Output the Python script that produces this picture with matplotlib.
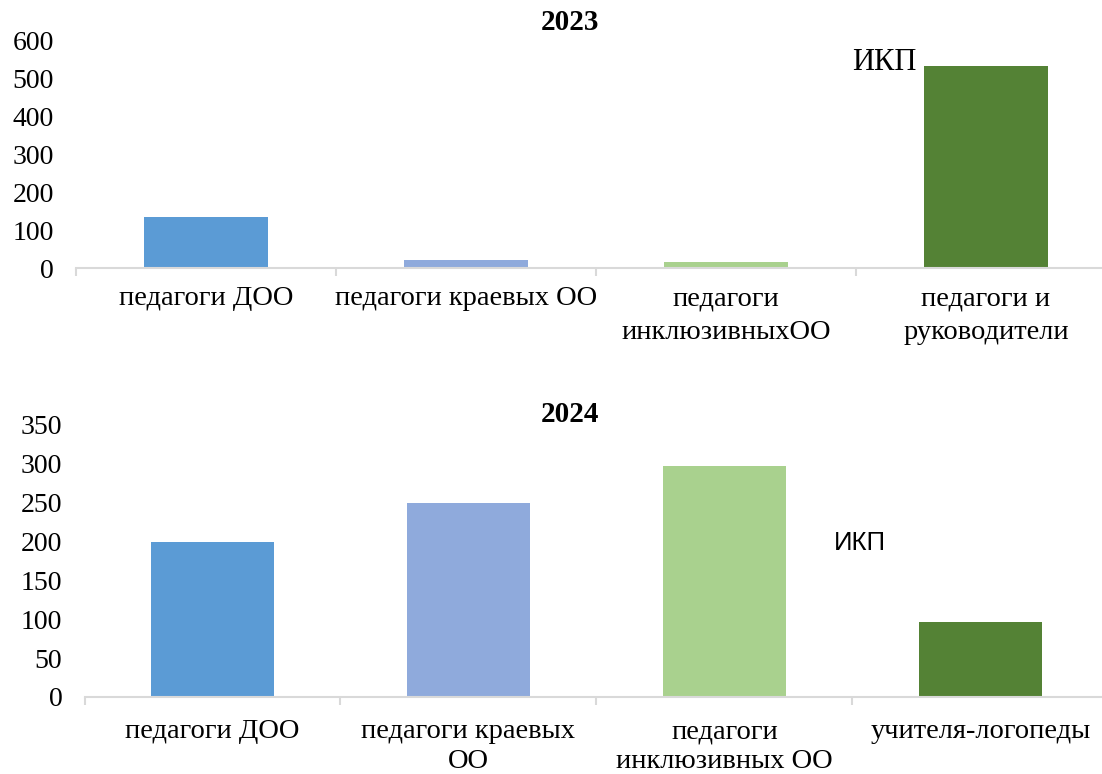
import matplotlib
matplotlib.use("Agg")
import matplotlib.pyplot as plt
import numpy as np

plt.rcParams['font.family'] = ['Liberation Serif', 'DejaVu Serif']

# Data
cats_2023 = ["педагоги ДОО", "педагоги краевых ОО", "педагоги\nинклюзивныхОО", "педагоги и\nруководители"]
vals_2023 = [135, 20, 17, 532]
cats_2024 = ["педагоги ДОО", "педагоги краевых\nОО", "педагоги\nинклюзивных ОО", "учителя-логопеды"]
vals_2024 = [200, 250, 297, 96]
colors = ["#5B9BD5", "#8FAADC", "#A9D18E", "#548235"]
yticks_2023 = [0, 100, 200, 300, 400, 500, 600]
yticks_2024 = [0, 50, 100, 150, 200, 250, 300, 350]

W, H = 1102, 774
fig = plt.figure(figsize=(W/100, H/100), dpi=100)

def make_axes(left_px, right_px, bottom_px, top_px):
    return fig.add_axes([left_px/W, 1-bottom_px/H, (right_px-left_px)/W, (bottom_px-top_px)/H])

def style(ax, cats, vals, yticks, ymax, xpad, ls):
    x = np.arange(len(cats))
    ax.bar(x, vals, width=0.48, color=colors, zorder=2)
    ax.set_xlim(-0.5, len(cats)-0.5)
    ax.set_ylim(0, ymax)
    ax.set_yticks(yticks)
    ax.set_yticklabels([str(v) for v in yticks], fontsize=20)
    ax.tick_params(axis='y', length=0, pad=16)
    ax.set_xticks(x)
    ax.set_xticklabels(cats, fontsize=20.5, linespacing=ls, va='top')
    ax.tick_params(axis='x', which='major', length=0, pad=xpad)
    ax.set_xticks(np.arange(-0.5, len(cats)), minor=True)
    ax.tick_params(axis='x', which='minor', length=6, width=1.5, color='#d9d9d9', direction='out')
    for s in ['top', 'right', 'left']:
        ax.spines[s].set_visible(False)
    ax.spines['bottom'].set_color('#d9d9d9')
    ax.spines['bottom'].set_linewidth(1.5)
    ax.set_facecolor('none')

ax1 = make_axes(76, 1116, 268, 40)
style(ax1, cats_2023, vals_2023, yticks_2023, 600, 13, 1.45)
ax2 = make_axes(84.5, 1108.5, 697, 425)
style(ax2, cats_2024, vals_2024, yticks_2024, 350, 16, 1.25)

fig.text(570/W, 1-22/H, "2023", fontsize=21, fontweight='bold', ha='center', va='center')
fig.text(570/W, 1-415/H, "2024", fontsize=21, fontweight='bold', ha='center', va='center')
fig.text(884/W, 1-62/H, "ИКП", fontsize=22, ha='center', va='center')
fig.text(860/W, 1-543/H, "ИКП", fontsize=18.5, ha='center', va='center', family=['Liberation Sans', 'DejaVu Sans'])

fig.savefig("out.png", dpi=100)
